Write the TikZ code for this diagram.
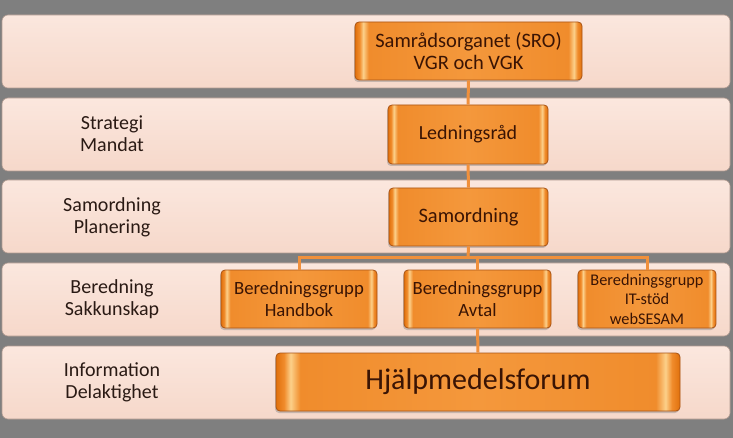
\documentclass[tikz,border=0pt]{standalone}
\usepackage{fontspec}
\setmainfont{Carlito}
\usetikzlibrary{shadows}

\definecolor{bggray}{HTML}{7F7F7F}
\definecolor{bandfill}{HTML}{F6D8CA}
\definecolor{bandtop}{HTML}{FBE7DE}
\definecolor{bandline}{HTML}{B09A90}
\definecolor{boxmid}{HTML}{F4983C}
\definecolor{boxinner}{HTML}{F08C2C}
\definecolor{boxglow}{HTML}{FCD08A}
\definecolor{boxedge}{HTML}{E0700C}
\definecolor{boxline}{HTML}{A85416}
\definecolor{boxtext}{HTML}{3A1404}
\definecolor{labtext}{HTML}{2A1A14}
\definecolor{wire}{HTML}{F0903C}

\pgfdeclarehorizontalshading{boxshade}{100bp}{%
  color(0bp)=(boxedge); color(25bp)=(boxedge); color(26bp)=(boxinner);
  color(26.8bp)=(boxglow); color(28bp)=(boxinner); color(50bp)=(boxmid);
  color(72bp)=(boxinner); color(73.2bp)=(boxglow); color(74bp)=(boxinner);
  color(75bp)=(boxedge); color(100bp)=(boxedge)}

\tikzset{
  band/.style={draw=bandline, line width=0.6pt, rounded corners=6pt,
    top color=bandtop, bottom color=bandfill,
    drop shadow={shadow xshift=-1pt, shadow yshift=-2pt, opacity=0.35}},
  bandlabel/.style={align=center, text=labtext,
    font=\fontsize{20}{22}\selectfont},
  orgbox/.style={draw=boxline, line width=0.8pt, rounded corners=4pt,
    shading=boxshade, align=center, text=boxtext, inner sep=0pt,
    font=\fontsize{20.5}{22}\selectfont,
    drop shadow={shadow xshift=-1pt, shadow yshift=-2pt, opacity=0.4}},
  wirestyle/.style={draw=wire, line width=3pt}
}

\begin{document}
\begin{tikzpicture}[x=1pt,y=-1pt]
\fill[bggray] (0,0) rectangle (733,438);
\useasboundingbox (0,0) rectangle (733,438);

% bands
\foreach \top in {15,98,180,263,346}
  \path[band] (2,\top) rectangle (730,\top+73);

\node[bandlabel] (strategi) at (112,134) {Strategi\\Mandat};
\node[bandlabel] (planering) at (112,217) {Samordning\\Planering};
\node[bandlabel] (sakkunskap) at (112,299) {Beredning\\Sakkunskap};
\node[bandlabel] (delaktighet) at (112,382) {Information\\Delaktighet};

% boxes
\node[orgbox, minimum width=227pt, minimum height=58pt] (sro) at (468.5,51) {Samrådsorganet (SRO)\\VGR och VGK};
\node[orgbox, minimum width=160pt, minimum height=59pt, font=\fontsize{20}{22}\selectfont] (led) at (468,134.5) {Ledningsråd};
\node[orgbox, minimum width=159pt, minimum height=58pt] (samo) at (468.5,217) {Samordning};
\node[orgbox, minimum width=156pt, minimum height=58pt, font=\fontsize{18.7}{22}\selectfont] (handbok) at (299,299) {Beredningsgrupp\\Handbok};
\node[orgbox, minimum width=147pt, minimum height=58pt, font=\fontsize{18.7}{22}\selectfont] (avtal) at (477.5,299) {Beredningsgrupp\\Avtal};
\node[orgbox, minimum width=138pt, minimum height=58pt, font=\fontsize{16.3}{19.5}\selectfont] (itstod) at (647,299) {Beredningsgrupp\\IT-stöd\\webSESAM};
\node[orgbox, minimum width=404pt, minimum height=58pt, font=\fontsize{30}{34}\selectfont] (forum) at (478,382) {Hjälpmedelsforum};

\coordinate (bus) at (468,258);

% connectors
\path[wirestyle] (sro.south) -- (led.north);
\path[wirestyle] (led.south) -- (samo.north);
\path[wirestyle] (samo.south) -- (bus);
\path[wirestyle] (handbok.north) |- (bus) -| (itstod.north);
\path[wirestyle] (bus) -| (avtal.north);
\path[wirestyle] (avtal.south) -- (forum.north);
\end{tikzpicture}
\end{document}
